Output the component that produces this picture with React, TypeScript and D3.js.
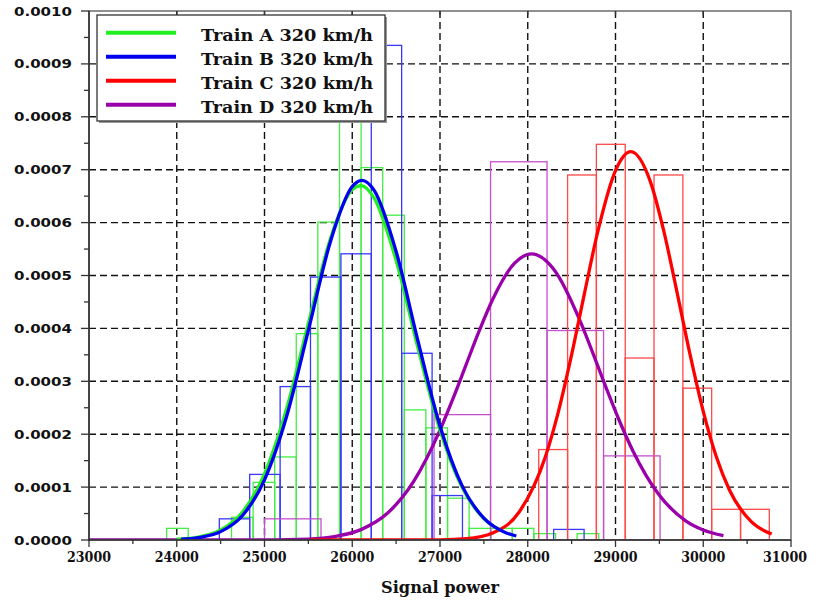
import * as d3 from "d3";

const WIDTH = 815;
const HEIGHT = 600;
const PLOT = { left: 89, right: 791, top: 11, bottom: 540 };

const X_DOMAIN = [23000, 31000];
const Y_DOMAIN = [0, 0.001];
const X_TICKS = [23000, 24000, 25000, 26000, 27000, 28000, 29000, 30000, 31000];
const Y_TICKS = [0, 0.0001, 0.0002, 0.0003, 0.0004, 0.0005, 0.0006, 0.0007, 0.0008, 0.0009, 0.001];

const trainNames = ["Train A 320 km/h", "Train B 320 km/h", "Train C 320 km/h", "Train D 320 km/h"];
const lineColors = ["#22ee22", "#0000f0", "#ff0000", "#9900aa"];
const histColors = ["#44ee44", "#3838ff", "#ff4848", "#c450cc"];

// histogram bin edges (signal power) and densities, per train
const edgesA = [23885, 24131, 24377, 24624, 24870, 25116, 25362, 25608, 25855, 26101, 26347, 26593, 26839, 27086, 27332, 27578, 27824, 28070, 28317, 28563, 28809];
const densA = [0.000022, 0, 0, 0.000043, 0.000109, 0.000157, 0.00039, 0.000601, 0.0008, 0.000704, 0.000614, 0.000246, 0.000212, 0.000079, 0.000022, 0.000022, 0.000022, 0.000012, 0, 0.000012];

const edgesB = [24485, 24831, 25178, 25524, 25871, 26217, 26563, 26910, 27256, 27603, 27949, 28295, 28642];
const densB = [0.00004, 0.000124, 0.00029, 0.000497, 0.000541, 0.000935, 0.000353, 0.000084, 0, 0, 0, 0.00002];

const edgesC = [28125, 28454, 28782, 29111, 29439, 29768, 30096, 30425, 30753];
const densC = [0.000171, 0.00069, 0.000748, 0.000344, 0.00069, 0.000287, 0.000058, 0.000058];

const edgesD = [25000, 25644, 26288, 26932, 27576, 28220, 28864, 29508];
const densD = [0.00004, 0, 0, 0.000237, 0.000715, 0.000396, 0.000159];

// fitted density curves
const curveA = [[24000, 0.0000015], [24250, 0.0000056], [24500, 0.0000189], [24750, 0.0000531], [25000, 0.0001251], [25250, 0.0002473], [25500, 0.0004098], [25750, 0.000569], [26000, 0.0006624], [26100, 0.00067], [26250, 0.0006462], [26500, 0.0005284], [26750, 0.0003621], [27000, 0.0002081], [27250, 0.0001002], [27500, 0.0000404], [27700, 0.0000172]];
const curveB = [[24050, 0.0000014], [24250, 0.0000045], [24500, 0.0000158], [24750, 0.0000464], [25000, 0.0001138], [25250, 0.0002325], [25500, 0.0003963], [25750, 0.0005634], [26000, 0.0006682], [26110, 0.00068], [26250, 0.000661], [26500, 0.0005454], [26750, 0.0003754], [27000, 0.0002156], [27250, 0.0001032], [27500, 0.0000412], [27750, 0.0000137], [27870, 0.0000076]];
const curveC = [[25520, 0], [26500, 0], [27000, 0.0000003], [27300, 0.0000024], [27600, 0.0000131], [27900, 0.0000524], [28200, 0.0001569], [28350, 0.0002432], [28500, 0.0003503], [28650, 0.0004692], [28800, 0.0005842], [29000, 0.0006984], [29175, 0.000734], [29400, 0.0006761], [29550, 0.0005842], [29700, 0.0004692], [29850, 0.0003503], [30000, 0.0002432], [30150, 0.0001569], [30300, 0.0000941], [30550, 0.0000341], [30780, 0.0000112]];
const curveD = [[23000, 0], [24000, 0], [24500, 0], [25000, 0.0000002], [25500, 0.0000018], [25800, 0.0000065], [26100, 0.0000196], [26400, 0.0000504], [26700, 0.0001107], [27000, 0.0002076], [27150, 0.000268], [27300, 0.0003325], [27450, 0.0003966], [27600, 0.0004547], [27850, 0.0005233], [28045, 0.000541], [28300, 0.000511], [28600, 0.0004129], [28750, 0.0003498], [28900, 0.0002849], [29050, 0.0002231], [29200, 0.0001679], [29500, 0.0000845], [29800, 0.0000363], [30000, 0.0000189], [30230, 0.0000082]];

const histograms = [
  { edges: edgesA, dens: densA },
  { edges: edgesB, dens: densB },
  { edges: edgesC, dens: densC },
  { edges: edgesD, dens: densD },
];
const curves = [curveA, curveB, curveC, curveD];
const curveOrder = [3, 2, 0, 1];

const SERIF = "'DejaVu Serif', serif";
const SANS = "'DejaVu Sans', Verdana, sans-serif";

export default function App() {
  const x = d3.scaleLinear().domain(X_DOMAIN).range([PLOT.left, PLOT.right]);
  const y = d3.scaleLinear().domain(Y_DOMAIN).range([PLOT.bottom, PLOT.top]);

  const line = d3
    .line<number[]>()
    .x((d) => x(d[0]))
    .y((d) => y(d[1]))
    .curve(d3.curveMonotoneX);

  const xMinor = d3.range(23500, 31000, 1000);
  const yMinor = d3.range(0.00005, 0.001, 0.0001);
  const fmtY = d3.format(".4f");

  return (
    <svg
      width={WIDTH}
      height={HEIGHT}
      style={{ position: "absolute", left: 0, top: 0, background: "#fff" }}
    >
      <defs>
        <clipPath id="plotClip">
          <rect x={PLOT.left} y={PLOT.top} width={PLOT.right - PLOT.left} height={PLOT.bottom - PLOT.top} />
        </clipPath>
      </defs>

      {/* grid */}
      <g stroke="#111" strokeWidth={1.4} strokeDasharray="7,4">
        {X_TICKS.slice(1, -1).map((t) => (
          <line key={"gx" + t} x1={x(t)} x2={x(t)} y1={PLOT.top} y2={PLOT.bottom} />
        ))}
        {Y_TICKS.slice(1, -1).map((t) => (
          <line key={"gy" + t} x1={PLOT.left} x2={PLOT.right} y1={y(t)} y2={y(t)} />
        ))}
      </g>

      {/* histograms */}
      <g clipPath="url(#plotClip)" fill="none" strokeWidth={1.3}>
        {histograms.map((h, k) =>
          h.dens.map((v, i) => (
            <rect
              key={k + "-" + i}
              x={x(h.edges[i])}
              y={y(v)}
              width={x(h.edges[i + 1]) - x(h.edges[i])}
              height={y(0) - y(v)}
              stroke={histColors[k]}
            />
          ))
        )}
      </g>

      {/* fitted curves */}
      <g clipPath="url(#plotClip)" fill="none" strokeWidth={3.3} strokeLinejoin="round">
        {curveOrder.map((k) => (
          <path key={"c" + k} d={line(curves[k] as number[][]) || ""} stroke={lineColors[k]} />
        ))}
      </g>

      {/* frame */}
      <rect
        x={PLOT.left}
        y={PLOT.top}
        width={PLOT.right - PLOT.left}
        height={PLOT.bottom - PLOT.top}
        fill="none"
        stroke="#555"
        strokeWidth={1.3}
      />
      <line x1={PLOT.left} x2={PLOT.left} y1={PLOT.top} y2={PLOT.bottom + 1} stroke="#333" strokeWidth={1.6} />
      <line x1={PLOT.left - 1} x2={PLOT.right} y1={PLOT.bottom} y2={PLOT.bottom} stroke="#333" strokeWidth={1.6} />

      {/* ticks */}
      <g stroke="#333" strokeWidth={1.3}>
        {Y_TICKS.map((t) => (
          <line key={"yt" + t} x1={PLOT.left - 8} x2={PLOT.left} y1={y(t)} y2={y(t)} />
        ))}
        {yMinor.map((t) => (
          <line key={"ym" + t} x1={PLOT.left - 5} x2={PLOT.left} y1={y(t)} y2={y(t)} />
        ))}
        {X_TICKS.map((t) => (
          <line key={"xt" + t} x1={x(t)} x2={x(t)} y1={PLOT.bottom} y2={PLOT.bottom + 7} />
        ))}
        {xMinor.map((t) => (
          <line key={"xm" + t} x1={x(t)} x2={x(t)} y1={PLOT.bottom} y2={PLOT.bottom + 4} />
        ))}
        {X_TICKS.slice(1, -1).map((t) => (
          <line key={"tt" + t} x1={x(t)} x2={x(t)} y1={PLOT.top} y2={PLOT.top + 4} />
        ))}
      </g>
      <g fontFamily={SANS} fontWeight="bold" fontSize={12.5} fill="#111" textAnchor="end">
        {Y_TICKS.map((t) => (
          <text key={"yl" + t} x={72} y={y(t) + 4.5} textLength={58} lengthAdjust="spacingAndGlyphs">
            {fmtY(t)}
          </text>
        ))}
      </g>
      <g fontFamily={SERIF} fontWeight="bold" fontSize={14.5} fill="#111" textAnchor="middle">
        {X_TICKS.map((t) => (
          <text
            key={"xl" + t}
            x={Math.min(x(t), WIDTH - 30)}
            y={562}
            textLength={44}
            lengthAdjust="spacingAndGlyphs"
          >
            {t}
          </text>
        ))}
      </g>
      <text
        x={(PLOT.left + PLOT.right) / 2}
        y={593}
        textAnchor="middle"
        fontFamily={SERIF}
        fontWeight="bold"
        fontSize={16}
        fill="#111"
        textLength={118}
        lengthAdjust="spacingAndGlyphs"
      >
        Signal power
      </text>

      {/* legend */}
      <rect x={99} y={17} width={288} height={106} fill="#999" />
      <rect x={97} y={15} width={288} height={106} fill="#fff" stroke="#333" strokeWidth={1.3} />
      {trainNames.map((name, i) => (
        <g key={name}>
          <line x1={106} x2={176} y1={32.7 + i * 24} y2={32.7 + i * 24} stroke={lineColors[i]} strokeWidth={4} />
          <text
            x={201}
            y={40.7 + i * 24}
            fontFamily={SERIF}
            fontWeight="bold"
            fontSize={17}
            fill="#111"
            textLength={172}
            lengthAdjust="spacingAndGlyphs"
          >
            {name}
          </text>
        </g>
      ))}
    </svg>
  );
}
